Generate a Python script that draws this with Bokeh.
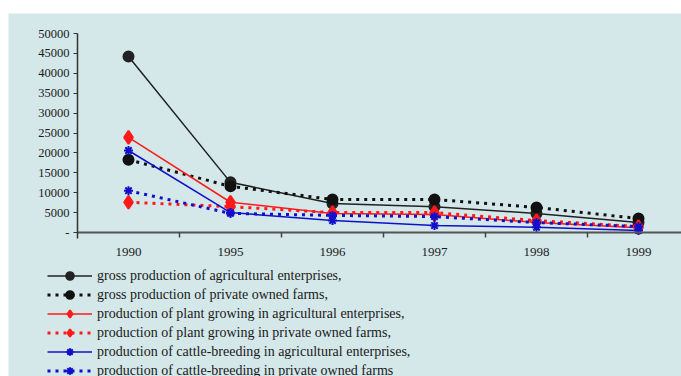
from bokeh.plotting import figure
from bokeh.models import Range1d, FixedTicker, Legend, LegendItem
from bokeh.embed import file_html
from bokeh.resources import INLINE

years = ["1990", "1995", "1996", "1997", "1998", "1999"]

gross_agri = [44200, 12600, 7300, 6500, 4800, 2500]
gross_private = [18300, 11600, 8300, 8300, 6300, 3500]
plant_agri = [23900, 7600, 4800, 4500, 2500, 1200]
plant_private = [7600, 6500, 5000, 5000, 3000, 1500]
cattle_agri = [20600, 5000, 3000, 1750, 1300, 500]
cattle_private = [10500, 4800, 4300, 4000, 2500, 1500]

labels = [
    "gross production of agricultural enterprises,",
    "gross production of private owned farms,",
    "production of plant growing in agricultural enterprises,",
    "production of plant growing in private owned farms,",
    "production of cattle-breeding in agricultural enterprises,",
    "production of cattle-breeding in private owned farms",
]

y_ticks = [0, 5000, 10000, 15000, 20000, 25000, 30000, 35000, 40000, 45000, 50000]
y_tick_labels = ["-", "5000", "10000", "15000", "20000", "25000", "30000",
                 "35000", "40000", "45000", "50000"]

BG = "#d4e7e9"
x = list(range(len(years)))

# frame covers the figure except a thin white top/left border;
# axes are placed at fixed locations inside it
PX_PER_CAT = 102.0
PX_PER_Y = 199 / 50000
W, H, TOP, LEFT = 681, 376, 13, 8
FW, FH = W - LEFT, H - TOP
AXIS_LEFT = 69          # px from frame left to y axis
AXIS_TOP = 20           # px from frame top to the 50000 tick
AXIS_BOTTOM = 219       # px from frame top to the x axis
x_left = -0.5 - AXIS_LEFT / PX_PER_CAT
x_right = -0.5 + (FW - AXIS_LEFT) / PX_PER_CAT
y_top = 50000 + AXIS_TOP / PX_PER_Y
y_bottom = -(FH - AXIS_BOTTOM) / PX_PER_Y

p = figure(width=W, height=H, output_backend="svg", toolbar_location=None,
           x_range=Range1d(x_left, x_right), y_range=Range1d(y_bottom, y_top),
           min_border_left=LEFT, min_border_right=0, min_border_top=TOP,
           min_border_bottom=0,
           background_fill_color=BG, border_fill_color="white")
p.outline_line_color = None
p.xgrid.visible = False
p.ygrid.visible = False

series = [
    (gross_agri, "#222222", "solid", 1.5, "circle", 10),
    (gross_private, "#111111", "3 5", 3, "circle", 10),
    (plant_agri, "#ff1a1a", "solid", 1.5, "diamond", 13),
    (plant_private, "#ff1a1a", "3 5", 3, "diamond", 13),
    (cattle_agri, "#1010cc", "solid", 1.5, "asterisk", 9),
    (cattle_private, "#1010cc", "3 5", 3, "asterisk", 9),
]

items = []
for (vals, col, dash, lw, mk, sz), lab in zip(series, labels):
    lr = p.line(x, vals, line_color=col, line_width=lw, line_dash=dash)
    sr = p.scatter(x, vals, marker=mk, size=sz, fill_color=col, line_color=col,
                   line_width=2)
    items.append(LegendItem(label=lab, renderers=[lr, sr]))

legend = Legend(items=items, location=(39, -4), margin=0, padding=0,
                spacing=0, glyph_width=45, glyph_height=19, label_height=19,
                label_standoff=5, background_fill_alpha=0,
                border_line_color=None,
                label_text_font="Liberation Serif",
                label_text_font_size="14px", label_text_color="#1a1a1a")
p.add_layout(legend, "center")

p.xaxis.fixed_location = 0
p.xaxis.bounds = (-0.5, x_right)
p.xaxis.ticker = FixedTicker(ticks=x, minor_ticks=[i + 0.5 for i in x[:-1]])
p.xaxis.major_label_overrides = {i: y for i, y in zip(x, years)}
p.xaxis.major_tick_line_color = None
p.xaxis.minor_tick_in = 0
p.xaxis.minor_tick_out = 5
p.xaxis.minor_tick_line_color = "#444444"
p.xaxis.minor_tick_line_width = 1.5
p.xaxis.axis_line_color = "#555555"
p.xaxis.axis_line_width = 2
p.xaxis.major_label_standoff = 9
p.xaxis.major_label_text_font = "Liberation Serif"
p.xaxis.major_label_text_font_size = "13px"
p.xaxis.major_label_text_color = "#1a1a1a"

p.yaxis.fixed_location = -0.5
p.yaxis.bounds = (-1500, 50000)
p.yaxis.ticker = FixedTicker(ticks=y_ticks, minor_ticks=[])
p.yaxis.major_label_overrides = {t: l for t, l in zip(y_ticks, y_tick_labels)}
p.yaxis.major_tick_in = 0
p.yaxis.major_tick_out = 4
p.yaxis.major_tick_line_color = "#333333"
p.yaxis.axis_line_color = "#333333"
p.yaxis.axis_line_width = 1.5
p.yaxis.major_label_standoff = 4
p.yaxis.major_label_text_font = "Liberation Serif"
p.yaxis.major_label_text_font_size = "12.5px"
p.yaxis.major_label_text_color = "#1a1a1a"

open("out.html", "w").write(file_html(p, INLINE))
